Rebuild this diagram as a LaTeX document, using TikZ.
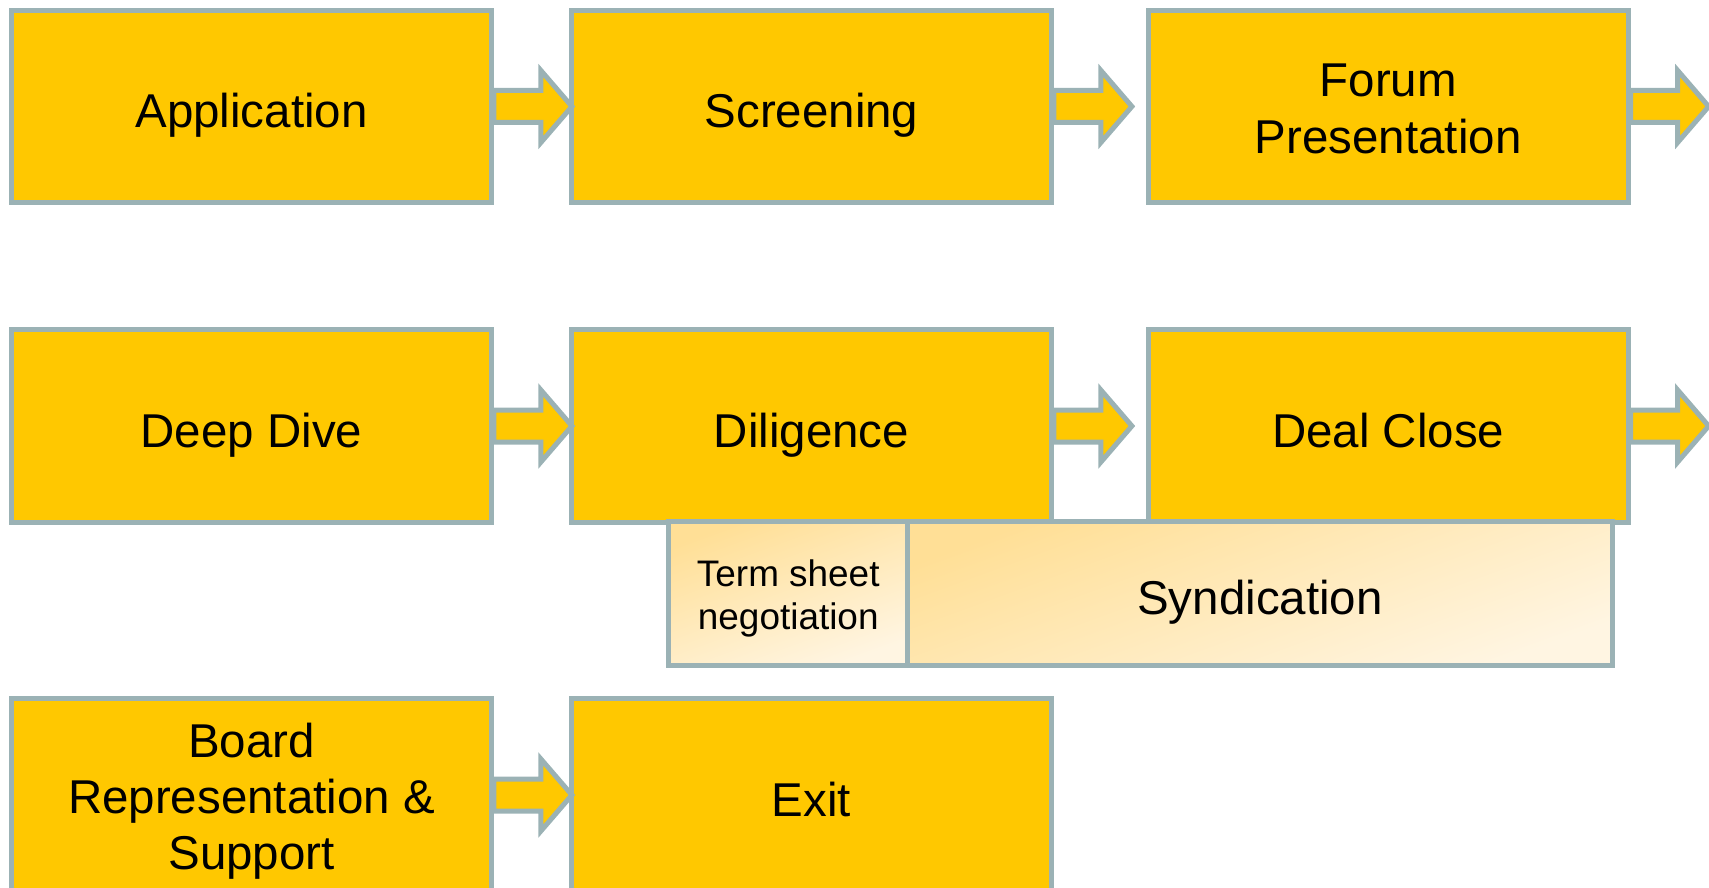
\documentclass[tikz,border=0pt]{standalone}
\usepackage{fontspec}
\setmainfont{Liberation Sans}
\usetikzlibrary{positioning,calc}
\definecolor{StageGold}{RGB}{255,200,0}
\definecolor{StageEdge}{RGB}{155,178,181}
\definecolor{SideTop}{RGB}{255,223,150}
\definecolor{SideBottom}{RGB}{255,245,226}
\newcommand{\linestrut}{\rule[-0.212em]{0pt}{1.31em}}
\newcommand{\topstrut}{\rule{0pt}{0.99em}}

\tikzset{
  stagebox/.style={rectangle, draw=StageEdge, fill=StageGold, line width=0.05cm,
    minimum width=4.795cm, minimum height=1.92cm, inner sep=0pt, align=center,
    font=\fontsize{13.5}{16}\selectfont,
    execute at begin node=\linestrut, execute at end node=\linestrut},
  sidebox/.style={rectangle, draw=StageEdge, line width=0.05cm,
    top color=SideTop, bottom color=SideBottom, shading angle=20,
    minimum height=1.44cm, inner sep=0pt, align=center,
    execute at begin node=\linestrut, execute at end node=\linestrut},
  flowarrow/.style={draw=StageEdge, fill=StageGold, line width=0.05cm}
}

\begin{document}
\begin{tikzpicture}[x=0.01cm, y=-0.01cm]
  \clip (0,0) rectangle (1709,888);
  % first row
  \node[stagebox] (app) at (251.5,106.5) {Application};
  \node[stagebox] (scr) at (811.5,106.5) {Screening};
  \node[stagebox] (forum) at (1388.25,106.5) {\topstrut Forum\\Presentation};
  % second row
  \node[stagebox] (dive) at (251.5,426) {Deep Dive};
  \node[stagebox] (dil) at (811.5,426) {Diligence};
  \node[stagebox] (close) at (1388.25,426) {Deal Close};
  % under the second row
  \node[sidebox, minimum width=2.395cm, font=\fontsize{10.5}{12.1}\selectfont] (sheet) at (788.25,593.5) {\topstrut Term sheet\\negotiation};
  \node[sidebox, minimum width=7.04cm, font=\fontsize{13.5}{16}\selectfont] (synd) at (1260,593.5) {Syndication};
  % third row
  \node[stagebox] (board) at (251.5,795) {\topstrut Board\\Representation \&\\Support};
  \node[stagebox] (exit) at (811.5,795) {Exit};
  % block arrows
  \foreach \s in {app,scr,forum,dive,dil,close,board}
    \draw[flowarrow] (\s.east) ++(0,-16) -- ++(47,0) -- ++(0,-20) -- ++(31,36)
      -- ++(-31,36) -- ++(0,-20) -- ++(-47,0) -- cycle;
\end{tikzpicture}
\end{document}
